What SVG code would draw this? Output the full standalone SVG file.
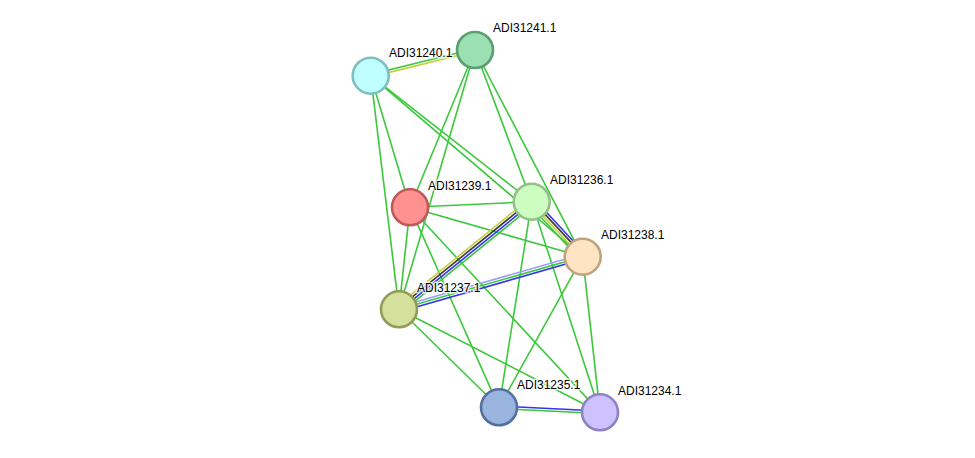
<svg xmlns="http://www.w3.org/2000/svg" width="975" height="458" viewBox="0 0 975 458">
<style>
.e line{stroke-width:1.6;fill:none}
.g{stroke:#3cc83c}
.y{stroke:#c4d03c}
.k{stroke:#3a3a3a}
.b{stroke:#3333f0}
.lb{stroke:#9b9bff}
.n circle{stroke-width:2.6}
.n text{font-family:"Liberation Sans",Arial,sans-serif;font-size:12px;fill:#000;stroke:#fff;stroke-width:3;stroke-opacity:0.75;paint-order:stroke;stroke-linejoin:round}
</style>
<rect width="975" height="458" fill="#fff"/>
<g id="connectors" class="e">
<line class="g" x1="370.4" y1="74.5" x2="474.7" y2="48.8"/>
<line class="y" x1="371" y1="76.9" x2="475.3" y2="51.2"/>
<line class="g" x1="370.7" y1="75.7" x2="410" y2="207.3"/>
<line class="g" x1="370.7" y1="75.7" x2="399" y2="309.3"/>
<line class="g" x1="370.7" y1="75.7" x2="531.7" y2="201.7"/>
<line class="g" x1="370.7" y1="75.7" x2="582.7" y2="256.7"/>
<line class="g" x1="475" y1="50" x2="410" y2="207.3"/>
<line class="g" x1="475" y1="50" x2="399" y2="309.3"/>
<line class="g" x1="475" y1="50" x2="531.7" y2="201.7"/>
<line class="g" x1="475" y1="50" x2="582.7" y2="256.7"/>
<line class="g" x1="410" y1="207.3" x2="531.7" y2="201.7"/>
<line class="g" x1="410" y1="207.3" x2="582.7" y2="256.7"/>
<line class="g" x1="410" y1="207.3" x2="399" y2="309.3"/>
<line class="g" x1="410" y1="207.3" x2="499" y2="407.3"/>
<line class="g" x1="410" y1="207.3" x2="600" y2="412.3"/>
<line class="y" x1="396.6" y1="306.4" x2="529.3" y2="198.8"/>
<line class="k" x1="398.2" y1="308.3" x2="530.9" y2="200.7"/>
<line class="b" x1="399.8" y1="310.3" x2="532.5" y2="202.7"/>
<line class="g" x1="401.4" y1="312.2" x2="534.1" y2="204.6"/>
<line class="b" x1="534.4" y1="199.2" x2="585.4" y2="254.2"/>
<line class="k" x1="532.6" y1="200.9" x2="583.6" y2="255.9"/>
<line class="y" x1="530.8" y1="202.6" x2="581.8" y2="257.6"/>
<line class="g" x1="529" y1="204.3" x2="580" y2="259.3"/>
<line class="g" x1="531.7" y1="201.7" x2="499" y2="407.3"/>
<line class="g" x1="531.7" y1="201.7" x2="600" y2="412.3"/>
<line class="lb" x1="398.3" y1="306.9" x2="582" y2="254.3"/>
<line class="g" x1="399" y1="309.3" x2="582.7" y2="256.7"/>
<line class="b" x1="399.7" y1="311.7" x2="583.4" y2="259.1"/>
<line class="g" x1="582.7" y1="256.7" x2="499" y2="407.3"/>
<line class="g" x1="582.7" y1="256.7" x2="600" y2="412.3"/>
<line class="g" x1="399" y1="309.3" x2="499" y2="407.3"/>
<line class="g" x1="399" y1="309.3" x2="600" y2="412.3"/>
<line class="b" x1="499.06" y1="406.05" x2="600.06" y2="411.05"/>
<line class="g" x1="498.94" y1="408.55" x2="599.94" y2="413.55"/>
</g>
<g id="ADI31240.1" class="n"><circle cx="370.7" cy="75.7" r="18" fill="#c0ffff" stroke="#7fbfbf"/><text x="389" y="57">ADI31240.1</text></g>
<g id="ADI31241.1" class="n"><circle cx="475" cy="50" r="18" fill="#9be0b2" stroke="#5b9e6f"/><text x="493" y="32">ADI31241.1</text></g>
<g id="ADI31239.1" class="n"><circle cx="410" cy="207.3" r="18" fill="#ff9191" stroke="#c05a5a"/><text x="428" y="190">ADI31239.1</text></g>
<g id="ADI31236.1" class="n"><circle cx="531.7" cy="201.7" r="18" fill="#cdfdc0" stroke="#93c289"/><text x="550" y="184">ADI31236.1</text></g>
<g id="ADI31238.1" class="n"><circle cx="582.7" cy="256.7" r="18" fill="#ffe4c4" stroke="#bfa57f"/><text x="601" y="239">ADI31238.1</text></g>
<g id="ADI31237.1" class="n"><circle cx="399" cy="309.3" r="18" fill="#d4e09b" stroke="#929b57"/><text x="417" y="292">ADI31237.1</text></g>
<g id="ADI31235.1" class="n"><circle cx="499" cy="407.3" r="18" fill="#9ab4e0" stroke="#5570a0"/><text x="517" y="389">ADI31235.1</text></g>
<g id="ADI31234.1" class="n"><circle cx="600" cy="412.3" r="18" fill="#cdc2fe" stroke="#8f82c4"/><text x="618" y="395">ADI31234.1</text></g>
</svg>
